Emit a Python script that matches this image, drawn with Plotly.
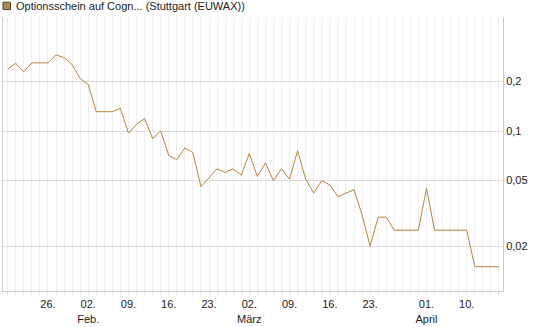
import plotly.graph_objects as go

# Trading days (EUWAX), 2026, weekends and Easter holidays excluded
dates = [
    "2026-01-19", "2026-01-20", "2026-01-21", "2026-01-22", "2026-01-23",
    "2026-01-26", "2026-01-27", "2026-01-28", "2026-01-29", "2026-01-30",
    "2026-02-02", "2026-02-03", "2026-02-04", "2026-02-05", "2026-02-06",
    "2026-02-09", "2026-02-10", "2026-02-11", "2026-02-12", "2026-02-13",
    "2026-02-16", "2026-02-17", "2026-02-18", "2026-02-19", "2026-02-20",
    "2026-02-23", "2026-02-24", "2026-02-25", "2026-02-26", "2026-02-27",
    "2026-03-02", "2026-03-03", "2026-03-04", "2026-03-05", "2026-03-06",
    "2026-03-09", "2026-03-10", "2026-03-11", "2026-03-12", "2026-03-13",
    "2026-03-16", "2026-03-17", "2026-03-18", "2026-03-19", "2026-03-20",
    "2026-03-23", "2026-03-24", "2026-03-25", "2026-03-26", "2026-03-27",
    "2026-03-30", "2026-03-31", "2026-04-01", "2026-04-02", "2026-04-07",
    "2026-04-08", "2026-04-09", "2026-04-10", "2026-04-13", "2026-04-14",
    "2026-04-15", "2026-04-16",
]

prices = [
    0.238, 0.258, 0.229, 0.259, 0.259,
    0.259, 0.290, 0.279, 0.253, 0.208,
    0.192, 0.131, 0.131, 0.131, 0.137,
    0.097, 0.110, 0.119, 0.090, 0.100,
    0.071, 0.067, 0.079, 0.074, 0.046,
    0.052, 0.059, 0.056, 0.059, 0.054,
    0.073, 0.053, 0.064, 0.050, 0.059,
    0.051, 0.076, 0.051, 0.042, 0.050,
    0.047, 0.040, 0.042, 0.044, 0.031,
    0.020, 0.030, 0.030, 0.025, 0.025,
    0.025, 0.025, 0.045, 0.025, 0.025,
    0.025, 0.025, 0.025, 0.015, 0.015,
    0.015, 0.015,
]

x_labels = {
    "2026-01-26": "26.",
    "2026-02-02": "02.<br>Feb.",
    "2026-02-09": "09.",
    "2026-02-16": "16.",
    "2026-02-23": "23.",
    "2026-03-02": "02.<br>März",
    "2026-03-09": "09.",
    "2026-03-16": "16.",
    "2026-03-23": "23.",
    "2026-04-01": "01.<br>April",
    "2026-04-10": "10.",
}

y_ticks = [0.02, 0.05, 0.1, 0.2]
y_tick_text = ["0,02", "0,05", "0,1", "0,2"]

legend_name = "Optionsschein auf Cogn... (Stuttgart (EUWAX))"

fig = go.Figure()
fig.add_trace(go.Scatter(
    x=dates, y=prices, mode="lines",
    line=dict(color="#b5843f", width=1),
    showlegend=False, hoverinfo="skip",
))

fig.update_layout(
    width=545, height=327,
    margin=dict(l=2, r=42, t=17, b=34),
    paper_bgcolor="white", plot_bgcolor="white",
    font=dict(family="Liberation Sans, Arial, sans-serif", size=11, color="#222"),
    xaxis=dict(
        type="category",
        tickmode="array",
        tickvals=dates,
        ticktext=[x_labels.get(d, "") for d in dates],
        range=[-0.58, 61.5],
        showgrid=True, gridcolor="#eeeeee", gridwidth=1,
        showline=True, linecolor="#cccccc", linewidth=1,
        ticks="outside", ticklen=3, tickcolor="#dddddd",
        tickangle=0,
    ),
    yaxis=dict(
        type="log",
        side="right",
        range=[-1.971, -0.308],
        tickmode="array",
        tickvals=y_ticks,
        ticktext=y_tick_text,
        showgrid=True, gridcolor="#dddddd", gridwidth=1,
        showline=True, mirror=True, linecolor="#cccccc", linewidth=1,
        ticks="", zeroline=False,
    ),
    shapes=[dict(
        type="rect", xref="paper", yref="paper",
        x0=0.0, x1=0.015, y0=1.027, y1=1.054,
        fillcolor="#b08850", line=dict(color="#444444", width=1),
    )],
    annotations=[dict(
        text=legend_name, xref="paper", yref="paper",
        x=0.021, y=1.040, xanchor="left", yanchor="middle",
        showarrow=False, font=dict(size=11, color="#222"),
    )],
)

fig.write_html("out.html")
